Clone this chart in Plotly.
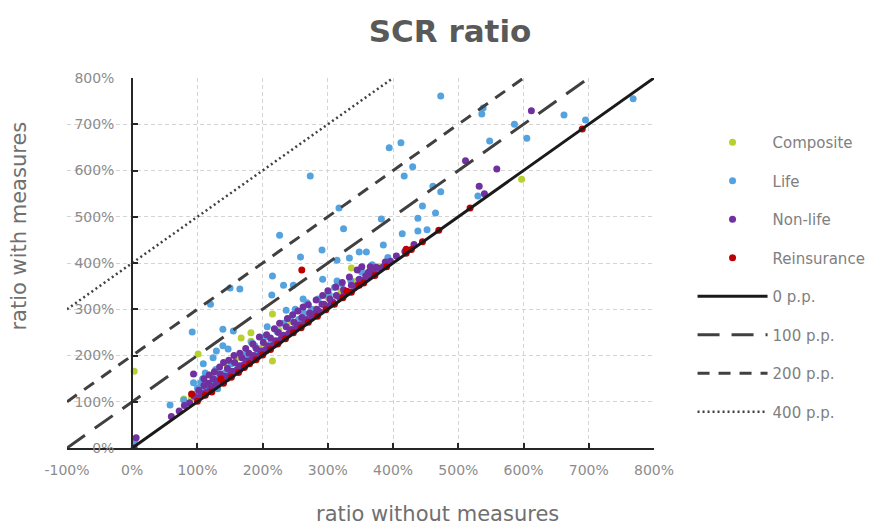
import plotly.graph_objects as go

# ---------------- data (values in %) ----------------
composite_x = [3, 79, 91, 101, 118, 128, 145, 160, 167, 182, 182, 195, 205, 215, 215, 225, 238, 250, 264,
               280, 300, 320, 336, 344, 351, 362, 380, 597]
composite_y = [166, 106, 108, 203, 140, 158, 180, 195, 238, 231, 249, 215, 222, 188, 290, 255, 270, 262, 288,
               300, 326, 340, 389, 361, 385, 370, 392, 581]

life_x = [473, 536, 538, 662, 695, 768, 586, 605, 548, 394, 412, 430, 417, 530, 461, 473, 445, 438, 382, 465,
          324, 438, 414, 385, 348, 359, 273, 226, 317, 291, 258, 314, 333, 292, 314, 321, 262, 268, 215, 232,
          247, 214, 150, 165, 120, 236, 250, 139, 155, 188, 109, 124, 129, 147, 112, 92, 58, 79, 97, 94,
          105, 139, 4, 100, 108, 115, 122, 128, 133, 142, 152, 162, 172, 178, 183, 193, 203, 207, 212, 222,
          232, 242, 255, 263, 275, 285, 302, 310, 335, 352, 368, 392, 452, 103, 110, 117, 125, 131]
life_y = [761, 722, 735, 720, 709, 755, 700, 670, 664, 649, 660, 608, 588, 545, 566, 554, 523, 497, 495, 508,
          474, 469, 463, 439, 424, 424, 588, 460, 519, 428, 413, 406, 411, 365, 361, 355, 322, 314, 372, 352,
          352, 331, 346, 344, 311, 298, 300, 257, 253, 221, 182, 195, 210, 214, 162, 251, 93, 104, 117, 141,
          141, 221, 11, 130, 150, 128, 142, 170, 152, 162, 182, 176, 200, 192, 228, 207, 240, 262, 226, 252,
          270, 280, 278, 292, 300, 322, 332, 347, 362, 380, 396, 412, 472, 118, 125, 133, 140, 128]

nonlife_x = [3, 6, 60, 72, 80, 88, 94, 95, 100, 102, 106, 110, 113, 117, 120, 124, 127, 131, 135, 138,
             142, 146, 150, 153, 157, 160, 164, 168, 171, 175, 179, 182, 186, 190, 193, 197, 201, 204, 208, 212,
             216, 220, 224, 228, 232, 236, 240, 244, 248, 252, 256, 260, 264, 268, 272, 276, 279, 283, 287, 291,
             294, 298, 303, 308, 313, 318, 324, 330, 336, 342, 348, 355, 362, 367, 374, 380, 388, 396, 405, 418,
             432, 511, 532, 540, 559, 612,
             110, 118, 126, 134, 140, 148, 156, 165, 174, 185, 195, 206, 218, 226, 238, 246, 254, 262, 270, 282,
             292, 300, 312, 322, 333, 345, 352, 358, 365, 372, 130, 145, 165, 185, 205, 225, 245, 265, 285, 305,
             325, 345, 365, 385]
nonlife_y = [0, 22, 68, 80, 92, 98, 160, 112, 108, 125, 118, 135, 120, 140, 128, 150, 135, 145, 160, 142,
             155, 172, 158, 166, 185, 168, 178, 195, 180, 188, 205, 190, 200, 215, 198, 210, 228, 212, 220, 238,
             222, 232, 250, 236, 244, 262, 248, 256, 272, 260, 266, 282, 270, 278, 292, 283, 290, 300, 295, 311,
             311, 306, 322, 315, 330, 325, 342, 338, 352, 350, 365, 362, 380, 383, 391, 388, 402, 404, 415, 425,
             440, 621, 566, 550, 603, 729,
             150, 158, 165, 175, 185, 190, 200, 205, 215, 225, 240, 245, 258, 270, 280, 288, 296, 305, 310, 320,
             330, 340, 348, 358, 370, 385, 392, 372, 392, 378, 140, 150, 170, 190, 210, 230, 250, 272, 292, 312,
             332, 352, 372, 392]

reins_x = [91, 100, 112, 122, 136, 140, 152, 163, 172, 180, 190, 200, 212, 223, 235, 247, 259, 260, 270, 284,
           297, 310, 323, 329, 336, 348, 355, 372, 390, 420, 420, 428, 445, 470, 518, 690]
reins_y = [117, 101, 114, 121, 149, 140, 153, 163, 174, 182, 191, 201, 213, 225, 236, 249, 260, 385, 272, 285,
           299, 311, 325, 339, 337, 352, 357, 373, 392, 421, 430, 429, 446, 471, 519, 690]

# reference lines: "x p.p." above the diagonal
ref_names = ["0 p.p.", "100 p.p.", "200 p.p.", "400 p.p."]
ref_x = [[0, 800], [-100, 700], [-100, 600], [-100, 400]]
ref_y = [[0, 800], [0, 800], [100, 800], [300, 800]]

x_ticks = [-100, 0, 100, 200, 300, 400, 500, 600, 700, 800]
x_tick_labels = ["-100%", "0%", "100%", "200%", "300%", "400%", "500%", "600%", "700%", "800%"]
y_ticks = [0, 100, 200, 300, 400, 500, 600, 700, 800]
y_tick_labels = ["0%", "100%", "200%", "300%", "400%", "500%", "600%", "700%", "800%"]

# ---------------- styling ----------------
FONT = "DejaVu Sans"
series = [
    ("Composite", composite_x, composite_y, "#b8d032"),
    ("Life", life_x, life_y, "#55a3de"),
    ("Non-life", nonlife_x, nonlife_y, "#7030a0"),
    ("Reinsurance", reins_x, reins_y, "#c00000"),
]
ref_styles = [
    dict(color="#1a1a1a", width=3, dash="solid"),
    dict(color="#404040", width=3, dash="22px,12px"),
    dict(color="#404040", width=3, dash="12px,9px"),
    dict(color="#404040", width=2.5, dash="2px,3px"),
]

fig = go.Figure()
for name, xs, ys, col in series:
    fig.add_trace(go.Scatter(
        x=xs, y=ys, mode="markers", name=name, legendgroup=name,
        marker=dict(color=col, size=7, line=dict(width=0)),
    ))
for name, xs, ys, st in zip(ref_names, ref_x, ref_y, ref_styles):
    fig.add_trace(go.Scatter(
        x=xs, y=ys, mode="lines", name=name, legendgroup=name,
        line=st,
    ))

L, R, T, B = 67, 222, 78, 81
W, H = 883, 529
plot_w = W - L - R
plot_h = H - T - B

fig.update_layout(
    width=W, height=H,
    margin=dict(l=L, r=R, t=T, b=B),
    paper_bgcolor="white", plot_bgcolor="white",
    font=dict(family=FONT, color="#808080"),
    title=dict(text="<b>SCR ratio</b>", x=450 / W, xanchor="center", y=1 - 31 / H, yanchor="middle",
               font=dict(family=FONT, size=31, color="#595959")),
    showlegend=True,
    legend=dict(x=(700 - L) / plot_w, xanchor="left", y=(H - B - 126) / plot_h, yanchor="top",
                font=dict(family=FONT, size=15, color="#808080"),
                tracegroupgap=16, itemwidth=70, bgcolor="rgba(0,0,0,0)"),
    xaxis=dict(range=[-100, 800], tickvals=x_ticks, ticktext=x_tick_labels,
               showgrid=True, gridcolor="#d4d4d4", griddash="4px,3px", gridwidth=1,
               zeroline=False, showline=True, linecolor="#262626", linewidth=2,
               ticks="inside", ticklen=5, tickcolor="#262626", tickwidth=1.5,
               tickfont=dict(family=FONT, size=14, color="#8c8c8c"),
               ticklabelstandoff=8, fixedrange=True),
    yaxis=dict(range=[0, 800], tickvals=y_ticks, ticktext=y_tick_labels,
               anchor="free", position=100 / 900,
               showgrid=True, gridcolor="#d4d4d4", griddash="4px,3px", gridwidth=1,
               zeroline=False, showline=True, linecolor="#262626", linewidth=2,
               ticks="inside", ticklen=5, tickcolor="#262626", tickwidth=1.5,
               tickfont=dict(family=FONT, size=14, color="#8c8c8c"),
               ticklabelstandoff=14, fixedrange=True),
    annotations=[
        dict(text="ratio without measures", xref="paper", yref="paper",
             x=(442 - L) / plot_w, y=-(514 - (H - B)) / plot_h, xanchor="center", yanchor="middle",
             showarrow=False, font=dict(family=FONT, size=21, color="#707070")),
        dict(text="ratio with measures", xref="paper", yref="paper",
             x=(18 - L) / plot_w, y=(H - B - 226) / plot_h, xanchor="center", yanchor="middle",
             textangle=-90, showarrow=False, font=dict(family=FONT, size=21, color="#707070")),
    ],
)

fig.write_html("out.html")
